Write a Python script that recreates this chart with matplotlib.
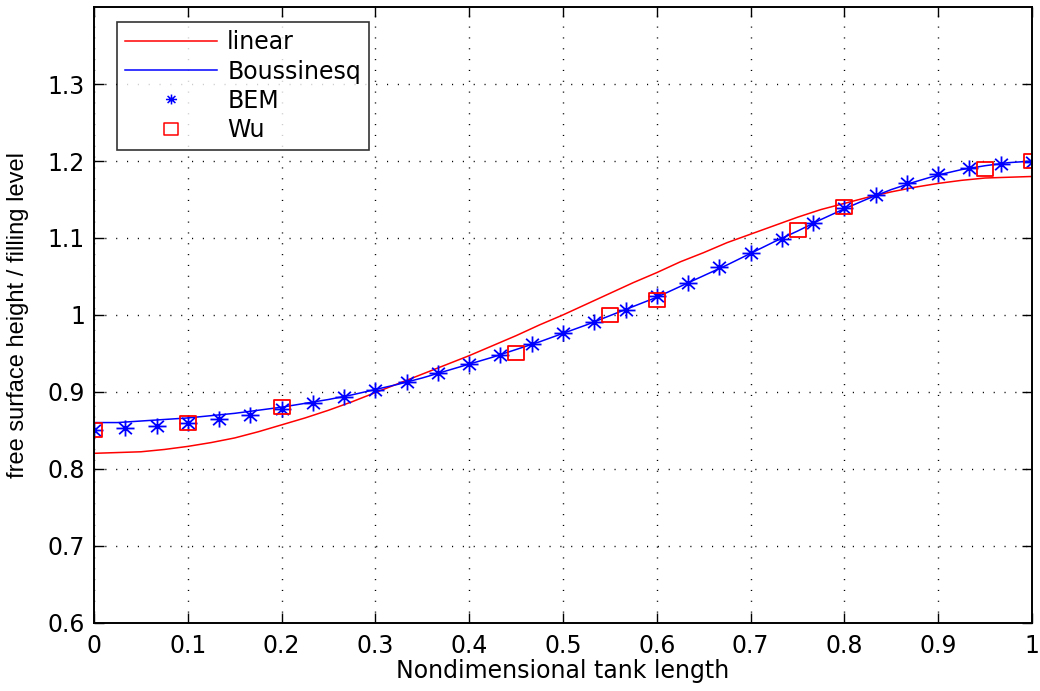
import numpy as np
import matplotlib
matplotlib.use("Agg")
import matplotlib.pyplot as plt
from matplotlib.path import Path

plt.rcParams['font.family'] = ['DejaVu Sans']

# Analytical curves sampled along the tank
x_curve = [0.000, 0.025, 0.050, 0.075, 0.100, 0.125, 0.150, 0.175, 0.200, 0.225,
           0.250, 0.275, 0.300, 0.325, 0.350, 0.375, 0.400, 0.425, 0.450, 0.475,
           0.500, 0.525, 0.550, 0.575, 0.600, 0.625, 0.650, 0.675, 0.700, 0.725,
           0.750, 0.775, 0.800, 0.825, 0.850, 0.875, 0.900, 0.925, 0.950, 0.975,
           1.000]
linear = [0.820, 0.821, 0.822, 0.825, 0.829, 0.834, 0.840, 0.848, 0.857, 0.866,
          0.876, 0.887, 0.899, 0.911, 0.923, 0.935, 0.947, 0.960, 0.973, 0.987,
          1.000, 1.014, 1.028, 1.042, 1.055, 1.069, 1.081, 1.094, 1.105, 1.116,
          1.127, 1.137, 1.145, 1.153, 1.160, 1.166, 1.171, 1.175, 1.178, 1.179,
          1.180]
boussinesq = [0.860, 0.860, 0.862, 0.864, 0.866, 0.869, 0.872, 0.876, 0.880, 0.885,
              0.890, 0.896, 0.903, 0.910, 0.918, 0.927, 0.936, 0.945, 0.955, 0.965,
              0.976, 0.987, 0.999, 1.011, 1.023, 1.037, 1.051, 1.065, 1.080, 1.095,
              1.109, 1.124, 1.138, 1.151, 1.163, 1.173, 1.182, 1.189, 1.194, 1.198,
              1.200]

# BEM solution
x_bem = [i / 30 for i in range(31)]
bem = [0.850, 0.853, 0.855, 0.860, 0.864, 0.870, 0.877, 0.885, 0.893, 0.902, 0.913,
       0.924, 0.936, 0.948, 0.962, 0.976, 0.991, 1.007, 1.024, 1.042, 1.062,
       1.080, 1.099, 1.119, 1.139, 1.156, 1.171, 1.183, 1.191, 1.196, 1.199]

# Wu reference data
x_wu = [0.00, 0.10, 0.20, 0.45, 0.55, 0.60, 0.75, 0.80, 0.95, 1.00]
wu = [0.850, 0.860, 0.880, 0.950, 1.000, 1.020, 1.110, 1.140, 1.190, 1.200]

xticks = [0, 0.1, 0.2, 0.3, 0.4, 0.5, 0.6, 0.7, 0.8, 0.9, 1]
xtick_labels = ['0', '0.1', '0.2', '0.3', '0.4', '0.5', '0.6', '0.7', '0.8', '0.9', '1']
yticks = [0.6, 0.7, 0.8, 0.9, 1.0, 1.1, 1.2, 1.3]
ytick_labels = ['0.6', '0.7', '0.8', '0.9', '1', '1.1', '1.2', '1.3']

# Slightly wide asterisk and box markers
k = 1.12
d = 0.707
star = Path([(-k, 0), (k, 0), (0, -1), (0, 1),
             (-k * d, -d), (k * d, d), (-k * d, d), (k * d, -d)],
            [Path.MOVETO, Path.LINETO] * 4)
box = Path([(-1.15, -1), (1.15, -1), (1.15, 1), (-1.15, 1), (-1.15, -1)],
           [Path.MOVETO, Path.LINETO, Path.LINETO, Path.LINETO, Path.CLOSEPOLY])

W, H = 1040, 691
fig = plt.figure(figsize=(W / 100, H / 100), dpi=100)
ax = fig.add_axes([94 / W, (H - 622.5) / H, 938 / W, 615.2 / H])

ax.plot(x_curve, linear, color='#ff0000', lw=1.1, label='linear')
ax.plot(x_curve, boussinesq, color='#0000ff', lw=1.1, label='Boussinesq')
ax.plot(x_bem, bem, linestyle='none', marker=star, markersize=13,
        markeredgewidth=1.3, color='#0000ff', label='BEM')
ax.plot(x_wu, wu, linestyle='none', marker=box, markersize=11,
        markerfacecolor='none', markeredgecolor='#ff0000', markeredgewidth=1.3,
        label='Wu')

ax.set_xlim(0, 1)
ax.set_ylim(0.6, 1.4)
ax.set_xticks(xticks)
ax.set_xticklabels(xtick_labels)
ax.set_yticks(yticks)
ax.set_yticklabels(ytick_labels)

ax.grid(True, color='black', linestyle=(0, (0.8, 7)), linewidth=1.0)
ax.tick_params(direction='in', top=True, right=True, length=7, width=1,
               labelsize=17)
ax.tick_params(axis='x', pad=8)
ax.tick_params(axis='y', pad=6.5)
for s in ax.spines.values():
    s.set_linewidth(1.4)

ax.set_xlabel('Nondimensional tank length', fontsize=17)
ax.xaxis.set_label_coords(0.5, -0.060)
ax.set_ylabel('free surface height / filling level', fontsize=17,
              family=['Liberation Sans', 'DejaVu Sans'])
ax.yaxis.set_label_coords(-0.0693, 0.5)

leg = ax.legend(loc='upper left', bbox_to_anchor=(0.0245, 0.976), fontsize=17,
                frameon=True, fancybox=False, edgecolor='black',
                borderpad=0.35, labelspacing=0.22, handlelength=3.9,
                handletextpad=0.42, borderaxespad=0.0)
leg.get_frame().set_linewidth(1.2)
handles = leg.legend_handles
handles[2].set_markersize(8)
handles[2].set_markeredgewidth(1.1)
handles[3].set_markersize(10)
handles[3].set_markeredgewidth(1.1)

fig.savefig('out.png', dpi=100)
